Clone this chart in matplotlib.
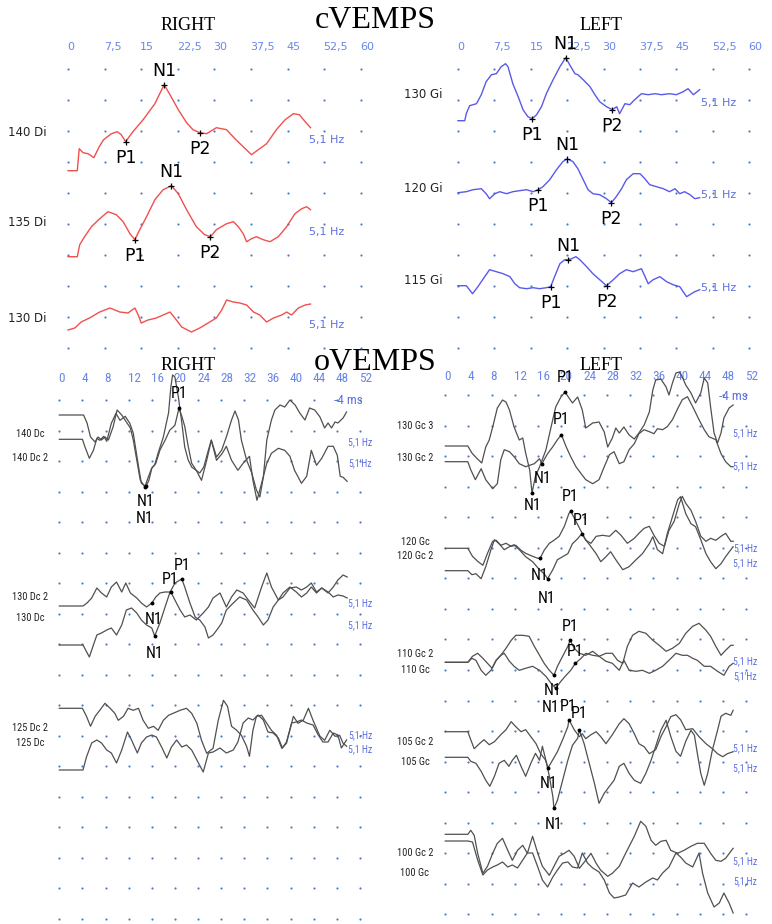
import numpy as np
import matplotlib as mpl
mpl.use('Agg')
import matplotlib.pyplot as plt
from matplotlib import font_manager

# ---------------- data ----------------
c_ticks = [0, 7.5, 15, 22.5, 30, 37.5, 45, 52.5, 60]
c_tick_labels = ['0', '7,5', '15', '22,5', '30', '37,5', '45', '52,5', '60']
o_ticks = [0, 4, 8, 12, 16, 20, 24, 28, 32, 36, 40, 44, 48, 52]
o_tick_labels = [str(t) for t in o_ticks]

# cVEMP right (ms, amplitude)
di140_t = [0, 1.9, 2.3, 3.1, 4.1, 5.3, 6.4, 7.3, 8.9, 10.1, 10.9, 11.8, 13.3, 15.4, 17.8, 19.7, 20.9, 22.6, 24.3, 25.6,
           27.0, 28.4, 30.4, 32.5, 34.2, 35.9, 37.6, 39.0, 40.7, 42.7, 44.5, 46.2, 47.4, 48.6, 49.7]
di140_v = [0, 0, 22, 18, 17, 13, 24, 31, 37, 39, 36, 29, 39, 51, 67, 86, 76, 61, 48, 41,
           38, 37, 43, 41, 32, 24, 16, 21, 27, 41, 51, 57, 56, 49, 43]
di135_t = [0, 1.9, 2.4, 3.4, 4.8, 6.5, 8.2, 9.9, 11.3, 12.7, 13.7, 14.7, 16.1, 17.8, 19.5, 21.2, 22.6, 24.3, 26.3, 28.0,
           29.2, 30.4, 32.5, 33.9, 34.9, 35.9, 36.6, 37.6, 38.6, 40.0, 41.4, 43.1, 44.8, 46.5, 47.9, 48.9, 49.7]
di135_v = [0, 0, 12, 20, 30, 38, 45, 42, 35, 23, 17, 27, 40, 57, 67, 71, 63, 47, 30, 22,
           20, 27, 33, 35, 30, 23, 15, 18, 20, 17, 15, 20, 30, 43, 48, 50, 47]
di130_t = [0, 1.4, 2.7, 4.4, 6.5, 8.6, 10.6, 12.3, 13.7, 14.4, 15.0, 16.4, 18.1, 19.5, 20.9, 21.9, 23.3, 25.3, 27.0, 28.7,
           30.4, 31.5, 32.5, 33.9, 35.2, 36.6, 38.0, 39.3, 40.7, 42.1, 43.8, 44.8, 45.8, 47.2, 48.6, 49.7]
di130_v = [0, 2, 8, 12, 18, 22, 18, 17, 22, 15, 7, 10, 12, 15, 18, 12, 3, -2, 2, 7,
           12, 20, 30, 28, 27, 25, 18, 15, 8, 12, 15, 18, 15, 22, 25, 26]

# cVEMP left
gi130_t = [0, 1.4, 1.7, 2.4, 3.8, 4.8, 5.8, 6.9, 7.9, 8.9, 9.8, 10.3, 11.3, 12.4, 13.4, 14.4, 15.3, 16.2, 17.2, 18.2,
           19.6, 21.0, 22.2, 23.0, 24.1, 24.7, 25.8, 27.2, 28.2, 29.2, 30.6, 31.8, 32.7, 33.3, 34.4, 35.4, 36.4, 37.8,
           39.2, 40.6, 41.9, 43.6, 45.0, 46.4, 47.4, 48.5, 49.8]
gi130_v = [0, 0, 7, 15, 17, 26, 39, 46, 47, 54, 57, 54, 37, 24, 11, 4, 2, 6, 14, 27,
           41, 54, 63, 56, 47, 46, 41, 34, 26, 19, 14, 11, 14, 7, 17, 16, 21, 27,
           26, 27, 26, 27, 26, 29, 32, 26, 31]
gi120_t = [0, 1.7, 3.1, 4.8, 5.8, 6.5, 7.6, 8.6, 10.0, 11.3, 12.7, 14.1, 15.5, 16.5, 17.5, 18.9, 20.3, 21.6, 22.5, 23.7,
           24.7, 25.8, 26.8, 27.8, 29.2, 30.6, 31.6, 32.6, 33.7, 34.7, 36.1, 37.5, 38.5, 39.5, 40.9, 42.3, 43.6, 44.7,
           45.7, 46.7, 47.8, 48.8, 49.8]
gi120_v = [0, 1, 3, 4, -1, -6, -1, 1, -1, 1, 2, 3, 1, 3, 6, 13, 23, 31, 34, 31,
           24, 13, 3, -1, -2, -6, -10, -4, 4, 13, 19, 19, 14, 8, 6, 4, 1, 4,
           -1, 1, -2, -6, -5]
gi115_t = [0, 1.7, 3.0, 4.1, 5.5, 6.5, 7.9, 9.3, 10.7, 11.7, 12.7, 14.1, 15.5, 16.8, 18.2, 19.1, 19.9, 21.0, 22.0, 22.7,
           23.4, 24.3, 25.1, 26.5, 27.8, 29.2, 30.6, 32.0, 33.3, 34.7, 36.1, 37.8, 39.2, 40.2, 41.6, 43.0, 44.3, 45.7,
           47.1, 48.1, 48.8, 49.8]
gi115_v = [0, 0, -8, -1, 9, 16, 14, 12, 9, 2, -2, -3, -2, -3, -2, -1, 9, 22, 26, 26,
           27, 29, 26, 19, 12, 6, 0, 6, 12, 16, 14, 17, 2, 6, 9, 4, 1, -1,
           -11, -8, -6, -4]

# cVEMP peak latencies (ms)
c_peaks = {
    'di140': {'P1': 11.8, 'N1': 19.7, 'P2': 27.0},
    'di135': {'P1': 13.7, 'N1': 21.2, 'P2': 29.2},
    'gi130': {'P1': 15.3, 'N1': 22.2, 'P2': 31.8},
    'gi120': {'P1': 16.5, 'N1': 22.5, 'P2': 31.6},
    'gi115': {'P1': 19.1, 'N1': 22.7, 'P2': 30.6},
}

# oVEMP right
dc140_t = [0, 4.2, 4.8, 5.4, 6.2, 6.7, 7.3, 7.9, 8.5, 9.3, 10.0, 10.8, 11.6, 12.3, 12.8, 13.4, 14.0, 14.8, 15.4, 16.0,
           16.5, 17.1, 18.0, 18.9, 19.3, 19.6, 20.0, 20.6, 21.2, 21.7, 22.3, 22.9, 23.6, 24.3, 25.0, 25.8, 26.3, 27.2,
           28.1, 28.9, 29.8, 30.4, 31.0, 31.5, 32.4, 33.3, 34.1, 34.7, 35.3, 35.9, 36.7, 37.3, 38.2, 39.0, 39.9, 40.8,
           41.6, 42.5, 43.3, 44.2, 45.1, 45.9, 46.5, 47.1, 47.7, 48.2, 49.1, 49.7]
dc140_v = [0, 0, -8, -22, -27, -22, -25, -22, -25, -12, 5, 0, -7, -13, -25, -45, -65, -72, -62, -53,
           -50, -38, -22, 2, 28, 40, 38, 18, -8, -32, -45, -52, -55, -58, -52, -35, -25, -42,
           -35, -22, -5, 4, -5, -25, -45, -58, -75, -82, -62, -25, -5, 5, 10, 8, 15, 10,
           2, -5, 7, 5, -2, -13, -8, -13, -7, -8, -3, 3]
dc140_2_t = [0, 4.0, 4.4, 5.2, 5.9, 6.5, 7.0, 7.7, 8.2, 9.0, 9.8, 10.5, 11.4, 12.2, 12.8, 13.7, 14.2, 15.0, 15.5, 16.0,
             16.7, 17.4, 18.3, 19.1, 20.0, 20.7, 21.2, 21.7, 22.3, 22.9, 23.7, 24.6, 25.5, 26.3, 27.2, 28.2, 28.9, 29.8,
             30.9, 31.8, 32.9, 33.5, 34.2, 35.0, 35.9, 36.7, 37.9, 39.0, 39.9, 40.7, 41.9, 42.8, 43.6, 44.5, 45.4,
             46.5, 47.4, 48.1, 48.6, 49.1, 49.8]
dc140_2_v = [0, 0, -7, -19, -11, 1, -1, 3, -2, 16, 26, 19, 23, 16, 6, -27, -44, -47, -41, -29,
             -24, -11, -1, 9, 14, 31, 23, 13, -7, -24, -31, -41, -21, -1, -21, -14, -7, -21,
             -31, -24, -17, -41, -61, -44, -24, -14, -9, -11, -17, -31, -44, -37, -11, -26, -19,
             -7, -7, -16, -37, -38, -42]
dc130_2_t = [0, 4.1, 4.8, 5.6, 6.5, 7.3, 8.2, 9.0, 9.9, 10.8, 11.5, 12.3, 13.4, 14.2, 15.1, 16.0, 16.7, 17.4, 18.3, 19.3,
             20.0, 20.9, 21.7, 22.6, 23.7, 24.9, 25.8, 26.6, 27.8, 28.9, 29.8, 30.7, 31.8, 32.7, 33.8, 35.0, 35.9,
             36.7, 37.9, 38.7, 39.9, 41.0, 41.9, 42.8, 43.6, 44.5, 45.4, 46.5, 47.4, 48.2, 49.1, 49.8]
dc130_2_v = [0, 0, 3, 8, 18, 13, 9, 19, 24, 14, 23, 13, 8, 3, -1, 3, 9, 13, 14, 14,
             6, -4, -11, -9, -14, -7, -1, 8, 13, -1, 9, 16, 13, 6, -2, 19, 33,
             19, 6, 9, 18, 19, 16, 19, 23, 14, 18, 14, 9, 11, 10, 8]
dc130_t = [0, 4.1, 5.2, 5.9, 6.5, 7.3, 8.2, 9.0, 9.9, 10.8, 11.6, 12.5, 13.4, 14.2, 15.1, 16.0, 16.5, 17.4, 18.3, 19.1,
           20.0, 21.2, 21.7, 22.6, 23.5, 24.3, 25.2, 25.8, 26.6, 27.5, 28.1, 28.9, 30.1, 31.2, 32.4, 33.5, 34.4, 35.3,
           36.1, 37.0, 37.9, 38.7, 39.9, 41.0, 41.9, 42.8, 43.6, 44.5, 45.4, 46.5, 47.4, 48.2, 49.1, 49.8]
dc130_v = [0, 0, -12, 0, 10, 12, 15, 17, 10, 20, 35, 37, 32, 25, 20, 17, 9, 22, 38, 52,
           62, 66, 58, 42, 28, 25, 18, 7, 10, 17, 22, 35, 42, 48, 45, 35, 28, 20,
           25, 38, 45, 52, 58, 53, 48, 52, 58, 52, 57, 52, 58, 65, 70, 68]
dc125_2_t = [0, 4.0, 4.7, 5.4, 6.2, 7.0, 7.9, 8.8, 9.6, 10.2, 11.1, 11.9, 12.8, 13.7, 14.5, 15.4, 16.3, 17.1, 18.0, 18.9,
             19.7, 20.9, 22.0, 22.9, 23.8, 24.6, 25.5, 26.6, 27.5, 28.4, 29.1, 29.8, 30.7, 31.5, 32.4, 32.9, 33.5,
             34.1, 35.0, 35.9, 36.7, 37.6, 38.5, 39.3, 40.5, 41.3, 42.2, 43.1, 43.9, 45.1, 45.9, 46.8, 47.7, 48.5,
             49.1, 49.7]
dc125_2_v = [0, 0, -8, -18, -8, -2, 5, 0, -5, -12, -8, 0, -2, 0, -12, -20, -18, -22, -12, -7,
             -5, -2, 0, -5, -15, -32, -45, -40, -12, 8, 2, -18, -22, -27, -38, -48, -22,
             -8, -7, -15, -22, -27, -40, -35, -8, -15, -12, 0, -12, -28, -32, -22, -28, -27,
             -35, -38]
dc125_t = [0, 4.1, 4.7, 5.6, 6.5, 7.3, 8.2, 9.0, 9.9, 10.8, 11.8, 12.5, 13.5, 14.2, 15.1, 16.0, 16.8, 17.7, 18.6, 19.4,
           20.3, 21.2, 22.0, 22.9, 23.8, 24.9, 25.8, 26.6, 27.8, 28.9, 30.1, 30.9, 31.8, 32.7, 33.5, 34.4, 35.3, 36.1,
           37.0, 37.9, 38.6, 39.3, 40.2, 41.0, 41.9, 42.8, 43.9, 44.8, 45.6, 46.5, 47.4, 48.2, 48.8, 49.7]
dc125_v = [0, 0, 13, 27, 30, 27, 20, 17, 7, 20, 38, 30, 17, 27, 33, 35, 33, 23, 12, 23,
           30, 23, 25, 20, 10, -2, 17, 18, 22, 17, 20, 28, 47, 52, 50, 55, 50, 38,
           37, 32, 22, 28, 47, 48, 50, 47, 45, 35, 28, 28, 37, 35, 22, 30]

# oVEMP left
gc130_3_t = [0, 3.9, 4.6, 5.4, 6.3, 7.0, 7.6, 8.2, 9.0, 9.9, 10.5, 11.1, 11.9, 12.8, 13.4, 13.9, 14.6, 15.0, 15.6, 16.3,
             17.4, 18.3, 19.1, 20.0, 20.7, 22.0, 22.9, 23.7, 24.3, 25.5, 26.6, 27.5, 28.1, 28.9, 29.5, 30.1, 30.9,
             31.8, 32.7, 33.5, 34.4, 35.3, 35.9, 36.4, 37.3, 38.2, 38.7, 39.3, 39.9, 40.5, 41.0, 41.6, 42.5, 43.3,
             44.2, 44.8, 45.4, 45.9, 46.5, 47.1, 47.7, 48.2, 49.1, 49.8]
gc130_3_v = [0, 0, -7, -12, -17, -1, 6, 19, 38, 46, 44, 36, 19, 6, 8, -7, -24, -47, -30, -21,
             -4, 19, 39, 49, 54, 43, 49, 36, 18, 23, 24, 14, -1, 8, 18, 13, 19,
             11, 7, 13, 21, 34, 56, 66, 67, 59, 51, 63, 73, 74, 69, 61, 53, 43,
             53, 68, 63, 39, 13, 3, 13, 28, 38, 41]
gc130_2_t = [0, 3.9, 4.4, 5.2, 6.2, 7.0, 8.2, 9.0, 9.6, 10.2, 11.1, 11.9, 12.8, 13.9, 15.4, 16.3, 16.7, 17.7, 18.6, 19.4,
             20.1, 20.9, 21.7, 22.6, 23.5, 24.3, 25.5, 26.6, 27.5, 28.4, 29.2, 30.1, 30.9, 31.8, 32.7, 33.5, 34.4,
             35.3, 36.1, 36.7, 37.6, 38.4, 39.3, 40.2, 41.0, 41.9, 42.8, 43.9, 44.8, 45.6, 46.8, 47.7, 48.5, 49.4, 49.8]
gc130_2_v = [0, 0, -8, -18, -7, -18, -27, -22, 2, 12, 10, 5, -2, -5, -2, 3, -2, 8, 15, 22,
             27, 15, 5, -5, -12, -18, -22, -18, -5, 7, 10, -2, 0, 12, 18, 28, 32,
             30, 28, 33, 32, 35, 42, 53, 62, 65, 55, 42, 32, 25, 22, 8, 0, -5, -5]
gc120_t = [0, 3.9, 4.7, 5.6, 6.5, 7.3, 8.2, 8.8, 9.6, 10.5, 11.4, 12.2, 13.1, 13.9, 15.1, 16.0, 16.4, 17.1, 18.0, 18.8,
           19.7, 20.6, 21.4, 21.7, 22.6, 23.5, 24.3, 25.2, 26.1, 27.2, 28.4, 29.5, 30.4, 31.5, 32.7, 33.5, 34.4, 35.3,
           36.1, 37.0, 37.9, 38.7, 39.6, 40.5, 41.0, 41.6, 42.5, 43.3, 44.2, 45.1, 45.9, 46.8, 47.7, 48.5, 49.4, 49.8]
gc120_v = [0, 0, -8, -13, -17, -5, 7, 8, 3, 5, 2, 3, -2, -5, -8, -10, -10, -2, 5, 8,
           12, 22, 35, 37, 27, 17, 8, 5, 12, 13, 12, 18, 13, 5, 10, 15, 20, 22,
           13, 5, 2, 18, 27, 45, 52, 45, 38, 27, 12, 7, 10, 8, 12, 15, 7, 7]
gc120_2_t = [0, 3.9, 4.6, 5.3, 6.2, 7.0, 7.9, 8.5, 9.3, 10.2, 11.1, 11.9, 12.8, 13.9, 15.1, 16.3, 17.1, 17.7, 18.6, 19.4,
             20.3, 21.2, 22.0, 22.9, 23.6, 24.3, 25.2, 26.1, 26.9, 27.8, 28.6, 29.5, 30.7, 31.8, 33.0, 34.1, 35.3,
             35.9, 36.7, 37.6, 38.4, 39.3, 40.2, 40.7, 41.6, 42.5, 43.3, 44.2, 45.1, 45.9, 46.8, 47.7, 48.5, 49.4, 49.8]
gc120_2_v = [0, 0, -4, -3, -8, 4, 21, 31, 27, 21, 24, 26, 21, 14, 9, 1, -3, -8, 1, 11,
             14, 17, 27, 32, 37, 31, 24, 17, 9, 14, 19, 11, 1, 4, 11, 17, 27,
             34, 21, 17, 37, 54, 71, 74, 57, 47, 44, 31, 17, 9, 2, 7, 14, 21, 24]
gc110_2_t = [0, 3.9, 4.7, 5.6, 6.5, 7.3, 8.1, 8.8, 9.6, 10.5, 11.4, 12.2, 13.4, 14.5, 15.4, 16.3, 17.1, 18.0, 18.8, 19.4,
             20.3, 21.2, 21.6, 22.3, 23.2, 24.3, 25.5, 26.6, 27.8, 28.9, 29.8, 30.7, 31.5, 32.4, 33.5, 34.7, 35.9,
             37.0, 38.2, 39.3, 40.5, 41.6, 42.8, 43.9, 45.1, 45.9, 46.8, 47.7, 48.5, 49.4, 49.8]
gc110_2_v = [0, 0, 6, 9, 4, -1, -6, 2, 7, 14, 22, 27, 27, 26, 16, 7, -1, -8, -13, -4,
             6, 16, 22, 14, 9, 7, 11, 6, 9, 9, 2, -1, 16, 27, 31, 29, 22,
             17, 11, 14, 19, 29, 36, 39, 32, 26, 16, 7, 12, 17, 17]
gc110_t = [0, 3.9, 4.6, 5.3, 6.2, 7.0, 7.9, 8.8, 9.6, 10.2, 11.1, 11.9, 12.8, 13.9, 15.1, 16.3, 17.4, 18.3, 19.1, 20.0,
           20.9, 21.7, 22.5, 23.5, 24.3, 25.5, 26.6, 27.8, 28.9, 30.1, 30.9, 31.8, 33.0, 34.1, 35.3, 36.4, 37.6, 38.7,
           39.9, 41.0, 41.9, 42.8, 43.6, 44.8, 45.9, 47.1, 48.2, 49.1, 49.8]
gc110_v = [0, 0, 4, 2, -8, -13, -8, 2, 7, 9, 1, -4, -8, -6, -4, -8, -14, -21, -26, -19,
           -13, -8, -1, 4, 9, 7, 6, 1, -1, -8, 2, -8, -9, -8, -11, -8, -4, 2,
           9, 7, 7, 4, 2, -4, -4, -9, -13, -4, -1]
gc105_2_t = [0, 3.9, 4.4, 5.0, 5.9, 6.7, 7.6, 8.5, 9.6, 10.5, 11.4, 12.2, 13.1, 13.9, 14.8, 15.7, 16.5, 17.3, 17.8, 18.6,
             19.4, 20.3, 21.2, 21.4, 22.3, 23.2, 23.7, 24.3, 25.2, 26.1, 26.9, 27.8, 28.9, 30.1, 30.9, 31.8, 32.7,
             33.5, 34.4, 35.3, 36.4, 37.3, 38.2, 39.0, 39.9, 40.7, 41.6, 42.8, 43.9, 45.1, 46.2, 47.1, 48.0, 48.8, 49.8]
gc105_2_v = [0, 0, -8, -17, -12, -8, -13, -10, -3, 2, 10, 5, 0, 2, -5, -12, -22, -28, -36, -28,
             -20, -8, 5, 12, 2, -5, -2, -7, -3, 0, -5, -12, -3, 8, 13, 8, -2,
             -12, -15, -22, -18, -5, 5, 15, 17, 12, 2, 3, -5, -12, -17, -22, -25, -22, -20]
gc105_t = [0, 3.9, 4.4, 5.3, 6.2, 7.0, 7.7, 8.5, 9.3, 10.2, 11.0, 11.6, 12.3, 13.1, 13.9, 14.8, 15.6, 16.3, 16.8, 17.4,
           18.0, 18.6, 18.8, 19.4, 20.3, 21.2, 22.0, 22.9, 23.2, 24.0, 24.9, 25.8, 26.6, 27.5, 28.4, 29.2, 30.1, 30.9,
           31.8, 32.7, 33.8, 34.7, 35.6, 36.4, 37.3, 38.2, 39.0, 39.9, 40.7, 41.6, 42.5, 43.1, 43.6, 44.2, 44.8, 45.4,
           46.2, 47.1, 47.7, 48.5, 49.4, 49.8]
gc105_v = [0, 0, -4, -6, -14, -23, -29, -19, -6, -3, -9, -3, 2, -9, -19, -6, 4, -3, 11, -3,
           -19, -39, -51, -43, -23, -3, 12, 19, 27, 14, -6, -26, -46, -36, -29, -23, -9, -6,
           -16, -23, -26, -16, -3, 11, 27, 37, 21, 6, 1, 16, 27, 22, 4, -16, -28, -16,
           7, 27, 41, 44, 42, 47]
gc100_2_t = [0, 3.9, 4.4, 5.0, 5.6, 6.5, 7.3, 8.2, 9.0, 9.9, 10.8, 11.6, 12.5, 13.4, 14.2, 15.1, 16.0, 16.8, 18.0, 18.8,
             19.7, 20.6, 21.4, 22.3, 23.2, 24.3, 25.2, 26.1, 26.9, 28.1, 28.9, 30.1, 31.2, 32.7, 33.8, 34.7, 35.6,
             36.4, 37.3, 38.2, 39.0, 40.2, 41.3, 42.5, 43.6, 44.8, 45.9, 46.8, 47.7, 48.5, 49.4, 49.8]
gc100_2_v = [0, 0, 4, -1, -19, -39, -32, -19, -9, -4, -16, -26, -16, -11, -19, -2, -19, -32, -41, -32,
             -22, -19, -16, -22, -34, -26, -19, -29, -36, -42, -39, -32, -19, -2, 13, 8, -6,
             -11, -7, -6, -16, -19, -16, -12, -9, -9, -19, -26, -27, -24, -17, -14]
gc100_t = [0, 3.9, 4.7, 5.6, 6.5, 7.3, 8.2, 9.0, 9.9, 10.8, 11.6, 12.5, 13.4, 14.2, 15.1, 16.0, 16.8, 17.7, 18.6, 19.4,
           20.3, 21.2, 22.0, 22.9, 23.7, 24.6, 25.5, 26.6, 27.5, 28.4, 29.2, 30.1, 31.2, 32.4, 33.5, 34.7, 35.9, 36.7,
           37.6, 38.7, 39.9, 40.7, 41.6, 42.8, 43.9, 44.5, 45.4, 46.5, 47.4, 48.2, 49.1, 49.8]
gc100_v = [0, 0, -1, -19, -34, -29, -26, -24, -21, -26, -24, -27, -19, -12, -12, -26, -39, -46, -36, -29,
           -22, -21, -26, -27, -12, -22, -27, -31, -39, -52, -57, -56, -54, -42, -46, -41, -37, -39,
           -32, -26, -12, -16, -22, -26, -12, -32, -52, -66, -62, -52, -62, -72]

# oVEMP marked peaks: (trace, name, latency ms)
o_peaks = [
    ('dc140_2', 'P1', 20.7), ('dc140', 'N1', 14.8), ('dc140_2', 'N1', 15.0),
    ('dc130_2', 'P1', 19.3), ('dc130', 'P1', 21.2), ('dc130_2', 'N1', 16.0), ('dc130', 'N1', 16.5),
    ('gc130_3', 'P1', 20.7), ('gc130_2', 'P1', 20.1), ('gc130_3', 'N1', 15.0), ('gc130_2', 'N1', 16.7),
    ('gc120', 'P1', 21.7), ('gc120_2', 'P1', 23.6), ('gc120', 'N1', 16.4), ('gc120_2', 'N1', 17.7),
    ('gc110_2', 'P1', 21.6), ('gc110', 'P1', 22.5), ('gc110_2', 'N1', 18.8), ('gc110', 'N1', 19.1),
    ('gc105_2', 'P1', 21.4), ('gc105', 'P1', 23.2), ('gc105_2', 'N1', 17.8), ('gc105', 'N1', 18.8),
]

# ---------------- layout / style ----------------
W, H = 772, 924
RED = '#f0504e'
BLUE = '#5a5ae8'
GRAY = '#505050'
TICK_BLUE = '#6a86e8'
HZ_BLUE = '#5d6fe3'
DOT = '#4a7cc9'
SERIF = 'Liberation Serif'
SANS = 'DejaVu Sans'


def narrow_font():
    # condensed face if one is installed, otherwise Arial-like Liberation Sans a bit smaller
    fl = font_manager.fontManager.ttflist
    for want in ['Liberation Sans Narrow', 'Roboto Condensed', 'Open Sans Condensed']:
        if any(f.name == want for f in fl):
            return {'family': want}, 1.0
    for f in fl:
        if f.name in ('DejaVu Sans', 'Noto Sans', 'Roboto') and str(f.stretch) in ('condensed', 'semi-condensed'):
            return {'family': f.name, 'stretch': f.stretch}, 1.0
    return {'family': 'Liberation Sans'}, 0.88


NARROW, NK = narrow_font()

traces = {
    'di140': (di140_t, di140_v), 'di135': (di135_t, di135_v), 'di130': (di130_t, di130_v),
    'gi130': (gi130_t, gi130_v), 'gi120': (gi120_t, gi120_v), 'gi115': (gi115_t, gi115_v),
    'dc140': (dc140_t, dc140_v), 'dc140_2': (dc140_2_t, dc140_2_v),
    'dc130_2': (dc130_2_t, dc130_2_v), 'dc130': (dc130_t, dc130_v),
    'dc125_2': (dc125_2_t, dc125_2_v), 'dc125': (dc125_t, dc125_v),
    'gc130_3': (gc130_3_t, gc130_3_v), 'gc130_2': (gc130_2_t, gc130_2_v),
    'gc120': (gc120_t, gc120_v), 'gc120_2': (gc120_2_t, gc120_2_v),
    'gc110_2': (gc110_2_t, gc110_2_v), 'gc110': (gc110_t, gc110_v),
    'gc105_2': (gc105_2_t, gc105_2_v), 'gc105': (gc105_t, gc105_v),
    'gc100_2': (gc100_2_t, gc100_2_v), 'gc100': (gc100_t, gc100_v),
}
# baseline of each sweep (pixel row)
base_y = {
    'di140': 170.7, 'di135': 256.7, 'di130': 330,
    'gi130': 120.7, 'gi120': 192.7, 'gi115': 285.7,
    'dc140': 415, 'dc140_2': 439.3, 'dc130_2': 606, 'dc130': 645, 'dc125_2': 708.3, 'dc125': 770,
    'gc130_3': 446, 'gc130_2': 461.7, 'gc120': 548.3, 'gc120_2': 570.7, 'gc110_2': 662.3, 'gc110': 662.3,
    'gc105_2': 731.7, 'gc105': 757.3, 'gc100_2': 834.3, 'gc100': 841,
}
# label offsets (dx ms, dy px) for oVEMP peak names
o_offsets = [(0, -15), (0.2, 14), (-0.2, 32),
             (-0.2, -13), (0, -14), (0.4, 16), (0, 17),
             (0, -14), (-0.1, -15), (0.1, 12), (0.1, 15),
             (-0.1, -15), (-0.1, -13), (0, 17), (-0.2, 20),
             (0, -14), (0, -12), (-0.2, 15), (-0.8, 19),
             (-0.1, -13), (-0.1, -17), (0, 16), (0, 16)]

fig = plt.figure(figsize=(W / 100, H / 100), dpi=100)
fig.patch.set_facecolor('white')

base = fig.add_axes([0, 0, 1, 1])
base.set_xlim(0, W)
base.set_ylim(H, 0)
base.axis('off')


def panel(x0, ppm):
    ax = fig.add_axes([0, 0, 1, 1])
    ax.set_xlim(-x0 / ppm, (W - x0) / ppm)
    ax.set_ylim(H, 0)
    ax.axis('off')
    return ax


def grid_and_ticks(ax, ticks, labels, rows, label_y, ppm, font, size):
    xx, yy = np.meshgrid(ticks, rows)
    ax.scatter(xx.ravel(), yy.ravel(), s=2.5, color=DOT, linewidths=0, zorder=1)
    for t, lab in zip(ticks, labels):
        ax.text(t - 1.0 / ppm, label_y, lab, ha='left', va='center', color=TICK_BLUE,
                fontsize=size, zorder=2, **font)


def draw(ax, key, color, lw):
    t, v = traces[key]
    ax.plot(t, base_y[key] - np.asarray(v, float), color=color, lw=lw, zorder=3,
            solid_joinstyle='round')


def peak_y(key, lat):
    t, v = traces[key]
    return base_y[key] - np.interp(lat, t, v)


# ---- cVEMP ----
c_rows = 69 + 31 * np.arange(10)
ax_cr = panel(68, 4.88)
ax_cl = panel(458, 4.853)
grid_and_ticks(ax_cr, c_ticks, c_tick_labels, c_rows, 47, 4.88, {'family': SANS}, 8)
grid_and_ticks(ax_cl, c_ticks, c_tick_labels, c_rows, 47, 4.853, {'family': SANS}, 8)

for key in ['di140', 'di135', 'di130']:
    draw(ax_cr, key, RED, 1.0)
for key in ['gi130', 'gi120', 'gi115']:
    draw(ax_cl, key, BLUE, 1.0)

for key, pk in c_peaks.items():
    ax = ax_cr if key.startswith('di') else ax_cl
    for name, lat in pk.items():
        y = peak_y(key, lat)
        ax.plot([lat], [y], marker='+', ms=5, mew=0.9, color='black', zorder=4)
        dy = -14 if name == 'N1' else 16
        ax.text(lat, y + dy, name, ha='center', va='center', family=SANS, fontsize=12.5,
                color='black', zorder=5)

# ---- oVEMP ----
ax_or = panel(59.3, 5.78)
ax_ol = panel(445.3, 5.78)
grid_and_ticks(ax_or, o_ticks, o_tick_labels, 400 + 30.5 * np.arange(18), 379, 5.78, NARROW, 9.5 * NK)
grid_and_ticks(ax_ol, o_ticks, o_tick_labels, 395 + 30.55 * np.arange(18), 376, 5.78, NARROW, 9.5 * NK)

for key in ['dc140', 'dc140_2', 'dc130_2', 'dc130', 'dc125_2', 'dc125']:
    draw(ax_or, key, GRAY, 0.9)
for key in ['gc130_3', 'gc130_2', 'gc120', 'gc120_2', 'gc110_2', 'gc110',
            'gc105_2', 'gc105', 'gc100_2', 'gc100']:
    draw(ax_ol, key, GRAY, 0.9)

for (key, name, lat), (dx, dy) in zip(o_peaks, o_offsets):
    ax = ax_or if key.startswith('dc') else ax_ol
    y = peak_y(key, lat)
    ax.plot([lat], [y], marker='o', ms=1.8, color='black', zorder=4)
    ax.text(lat + dx, y + dy, name, ha='center', va='center', fontsize=11.5 * NK,
            color='black', zorder=5, **NARROW)

# ---- titles and side labels ----
for txt, x, y, fs in [('cVEMPS', 375, 20, 23), ('RIGHT', 188, 25, 13), ('LEFT', 601, 25, 13),
                      ('oVEMPS', 375, 362, 23), ('RIGHT', 188, 366, 13), ('LEFT', 601, 366, 13)]:
    base.text(x, y, txt, ha='center', va='center', family=SERIF, fontsize=fs, color='black')

c_names = [('140 Di', 27, 133), ('135 Di', 27, 223), ('130 Di', 27, 318),
           ('130 Gi', 423, 95), ('120 Gi', 423, 188), ('115 Gi', 423, 280)]
for txt, x, y in c_names:
    base.text(x, y, txt, ha='center', va='center', family=SANS, fontsize=8.5, color='#222222')
for x, y in [(327, 140), (327, 232), (327, 325), (719, 103), (719, 195), (719, 288)]:
    base.text(x, y, '5,1 Hz', ha='center', va='center', family=SANS, fontsize=8, color=HZ_BLUE)

o_names = [('140 Dc', 30, 434), ('140 Dc 2', 30, 458), ('130 Dc 2', 30, 597), ('130 Dc', 30, 618),
           ('125 Dc 2', 30, 728), ('125 Dc', 30, 743),
           ('130 Gc 3', 415, 426), ('130 Gc 2', 415, 458), ('120 Gc', 415, 542), ('120 Gc 2', 415, 556),
           ('110 Gc 2', 415, 654), ('110 Gc', 415, 670), ('105 Gc 2', 415, 742), ('105 Gc', 415, 762),
           ('100 Gc 2', 415, 853), ('100 Gc', 415, 873)]
for txt, x, y in o_names:
    base.text(x, y, txt, ha='center', va='center', fontsize=7.5 * NK, color='#222222', **NARROW)

o_hz = [('5,1 Hz', 360, 442), ("5,1'Hz", 360, 463), ('5,1 Hz', 360, 603), ('5,1 Hz', 360, 625),
        ('5,1-Hz', 360, 735), ('5,1 Hz', 360, 749),
        ('5,1 Hz', 745, 433), ('5,1 Hz', 745, 466), ('5,1-Hz', 745, 548), ('5,1 Hz', 745, 563),
        ('5,1 Hz', 745, 661), ("5,1'Hz", 745, 676), ('5,1 Hz', 745, 748), ('5,1 Hz', 745, 768),
        ('5,1 Hz', 745, 861), ('5,1,Hz', 745, 881)]
for txt, x, y in o_hz:
    base.text(x, y, txt, ha='center', va='center', fontsize=7 * NK, color=HZ_BLUE, **NARROW)
for x, y in [(348, 400), (733, 397)]:
    base.text(x, y, '-4 ms', ha='center', va='center', fontsize=9.5 * NK, color=HZ_BLUE, **NARROW)

fig.savefig('out.png', dpi=100, facecolor='white')
